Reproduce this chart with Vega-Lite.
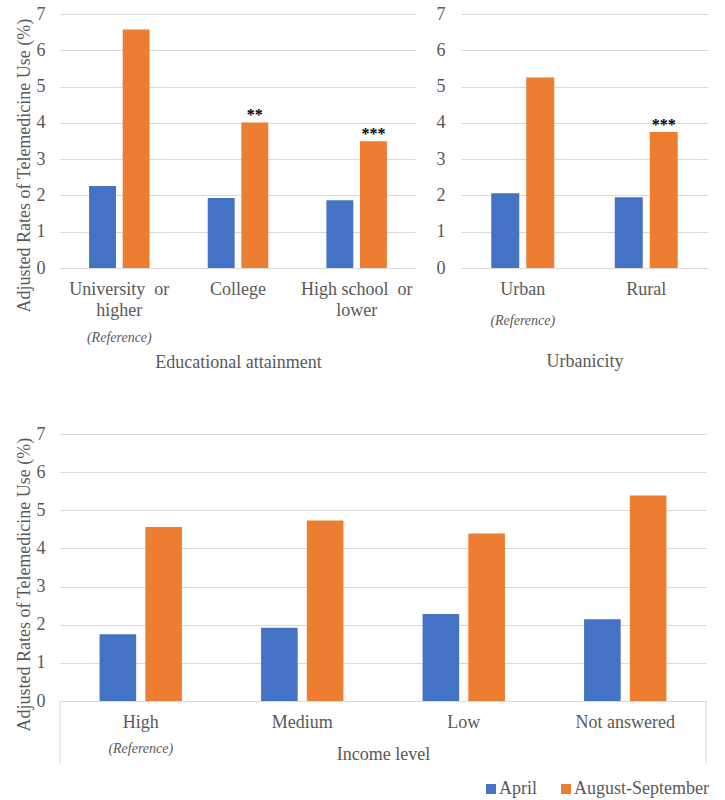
{
  "$schema": "https://vega.github.io/schema/vega-lite/v6.json",
  "padding": {"left": 15, "top": 5, "right": 5, "bottom": 5},
  "background": "white",
  "config": {
    "font": "Liberation Serif, Times New Roman, serif",
    "view": {"stroke": null},
    "text": {"font": "Liberation Serif, Times New Roman, serif"},
    "legend": {"labelFont": "Liberation Serif, Times New Roman, serif"},
    "axis": {
      "labelFont": "Liberation Serif, Times New Roman, serif",
      "titleFont": "Liberation Serif, Times New Roman, serif",
      "labelColor": "#595959",
      "titleColor": "#595959",
      "labelFontSize": 18,
      "titleFontWeight": "normal",
      "gridColor": "#d9d9d9",
      "domainColor": "#d9d9d9",
      "ticks": false
    },
    "axisX": {"grid": false, "domain": true, "labelAngle": 0, "labelOverlap": false, "titleFontSize": 18, "labelPadding": 12},
    "axisY": {"grid": true, "domain": false, "values": [0, 1, 2, 3, 4, 5, 6, 7], "titleFontSize": 18}
  },
  "datasets": {
    "edu": [
      {"category": "University or higher", "period": "April", "value": 2.26, "sig": ""},
      {"category": "University or higher", "period": "August-September", "value": 6.57, "sig": ""},
      {"category": "College", "period": "April", "value": 1.93, "sig": ""},
      {"category": "College", "period": "August-September", "value": 4.01, "sig": "**"},
      {"category": "High school or lower", "period": "April", "value": 1.87, "sig": ""},
      {"category": "High school or lower", "period": "August-September", "value": 3.49, "sig": "***"}
    ],
    "urb": [
      {"category": "Urban", "period": "April", "value": 2.06, "sig": ""},
      {"category": "Urban", "period": "August-September", "value": 5.25, "sig": ""},
      {"category": "Rural", "period": "April", "value": 1.95, "sig": ""},
      {"category": "Rural", "period": "August-September", "value": 3.75, "sig": "***"}
    ],
    "inc": [
      {"category": "High", "period": "April", "value": 1.75, "sig": ""},
      {"category": "High", "period": "August-September", "value": 4.56, "sig": ""},
      {"category": "Medium", "period": "April", "value": 1.92, "sig": ""},
      {"category": "Medium", "period": "August-September", "value": 4.73, "sig": ""},
      {"category": "Low", "period": "April", "value": 2.28, "sig": ""},
      {"category": "Low", "period": "August-September", "value": 4.39, "sig": ""},
      {"category": "Not answered", "period": "April", "value": 2.14, "sig": ""},
      {"category": "Not answered", "period": "August-September", "value": 5.39, "sig": ""}
    ],
    "refs": [
      {"panel": "edu", "category": "University or higher", "note": "(Reference)"},
      {"panel": "urb", "category": "Urban", "note": "(Reference)"},
      {"panel": "inc", "category": "High", "note": "(Reference)"}
    ]
  },
  "resolve": {"scale": {"color": "independent", "x": "independent", "xOffset": "independent", "y": "independent"}, "legend": {"color": "independent"}},
  "spacing": 54,
  "vconcat": [
    {
      "spacing": 20,
      "resolve": {"scale": {"x": "independent", "xOffset": "independent", "y": "independent"}},
      "hconcat": [
        {
          "width": 356,
          "height": 254,
          "layer": [
            {
              "data": {"name": "edu"},
              "mark": {"type": "bar"},
              "encoding": {
                "x": {
                  "field": "category", "type": "nominal",
                  "sort": ["University or higher", "College", "High school or lower"],
                  "scale": {"domain": ["University or higher", "College", "High school or lower"], "paddingInner": 0.49, "paddingOuter": 0.245},
                  "title": "Educational attainment",
                  "axis": {
                    "labelExpr": "datum.value == 'University or higher' ? ['University\u00a0 or', 'higher'] : datum.value == 'High school or lower' ? ['High school\u00a0 or', 'lower'] : datum.label",
                    "labelLineHeight": 21,
                    "titlePadding": 34
                  }
                },
                "xOffset": {"field": "period", "type": "nominal", "sort": ["April", "August-September"], "scale": {"paddingInner": 0.2}},
                "y": {
                  "field": "value", "type": "quantitative",
                  "scale": {"domain": [0, 7]},
                  "title": "Adjusted Rates of Telemedicine Use (%)",
                  "axis": {"labelPadding": 15, "titlePadding": 3, "titleAnchor": "start", "titleAlign": "left", "titleY": 298}
                },
                "color": {"field": "period", "type": "nominal", "scale": {"domain": ["April", "August-September"], "range": ["#4472C4", "#ED7D31"]}, "legend": null}
              }
            },
            {
              "data": {"name": "edu"},
              "mark": {"type": "text", "baseline": "alphabetic", "dy": -2, "fontSize": 16, "fontWeight": "bold", "color": "#000000"},
              "encoding": {
                "x": {"field": "category", "type": "nominal"},
                "xOffset": {"field": "period", "type": "nominal"},
                "y": {"field": "value", "type": "quantitative"},
                "text": {"field": "sig"}
              }
            },
            {
              "data": {"name": "refs"},
              "transform": [{"filter": "datum.panel == 'edu'"}],
              "mark": {"type": "text", "baseline": "middle", "fontSize": 14, "fontStyle": "italic", "color": "#595959"},
              "encoding": {
                "x": {"field": "category", "type": "nominal"},
                "y": {"datum": -1.93},
                "text": {"field": "note"}
              }
            }
          ]
        },
        {
          "width": 247,
          "height": 254,
          "layer": [
            {
              "data": {"name": "urb"},
              "mark": {"type": "bar"},
              "encoding": {
                "x": {
                  "field": "category", "type": "nominal",
                  "sort": ["Urban", "Rural"],
                  "scale": {"domain": ["Urban", "Rural"], "paddingInner": 0.49, "paddingOuter": 0.245},
                  "title": "Urbanicity",
                  "axis": {"titlePadding": 54}
                },
                "xOffset": {"field": "period", "type": "nominal", "sort": ["April", "August-September"], "scale": {"paddingInner": 0.2}},
                "y": {
                  "field": "value", "type": "quantitative",
                  "scale": {"domain": [0, 7]},
                  "title": null,
                  "axis": {"labelPadding": 16}
                },
                "color": {"field": "period", "type": "nominal", "scale": {"domain": ["April", "August-September"], "range": ["#4472C4", "#ED7D31"]}, "legend": null}
              }
            },
            {
              "data": {"name": "urb"},
              "mark": {"type": "text", "baseline": "alphabetic", "dy": -2, "fontSize": 16, "fontWeight": "bold", "color": "#000000"},
              "encoding": {
                "x": {"field": "category", "type": "nominal"},
                "xOffset": {"field": "period", "type": "nominal"},
                "y": {"field": "value", "type": "quantitative"},
                "text": {"field": "sig"}
              }
            },
            {
              "data": {"name": "refs"},
              "transform": [{"filter": "datum.panel == 'urb'"}],
              "mark": {"type": "text", "baseline": "middle", "fontSize": 14, "fontStyle": "italic", "color": "#595959"},
              "encoding": {
                "x": {"field": "category", "type": "nominal"},
                "y": {"datum": -1.47},
                "text": {"field": "note"}
              }
            }
          ]
        }
      ]
    },
    {
      "width": 646,
      "height": 267,
      "layer": [
        {
          "data": {"name": "inc"},
          "mark": {"type": "bar"},
          "encoding": {
            "x": {
              "field": "category", "type": "nominal",
              "sort": ["High", "Medium", "Low", "Not answered"],
              "scale": {"domain": ["High", "Medium", "Low", "Not answered"], "paddingInner": 0.49, "paddingOuter": 0.245},
              "title": "Income level",
              "axis": {"titlePadding": 14}
            },
            "xOffset": {"field": "period", "type": "nominal", "sort": ["April", "August-September"], "scale": {"paddingInner": 0.2}},
            "y": {
              "field": "value", "type": "quantitative",
              "scale": {"domain": [0, 7]},
              "title": "Adjusted Rates of Telemedicine Use (%)",
              "axis": {"labelPadding": 15, "titlePadding": 3, "titleAnchor": "start", "titleAlign": "left", "titleY": 297}
            },
            "color": {
              "field": "period", "type": "nominal",
              "scale": {"domain": ["April", "August-September"], "range": ["#4472C4", "#ED7D31"]},
              "legend": {
                "orient": "none", "legendX": 422, "legendY": 346, "direction": "horizontal",
                "title": null, "symbolType": "square", "symbolSize": 100, "symbolStrokeWidth": 0,
                "labelFontSize": 18, "labelColor": "#595959",
                "columnPadding": 20, "labelOffset": -1
              }
            }
          }
        },
        {
          "data": {"name": "inc"},
          "transform": [{"filter": "datum.category == 'High' && datum.period == 'April'"}],
          "mark": {"type": "rule", "color": "#d9d9d9", "strokeWidth": 1},
          "encoding": {
            "x": {"field": "category", "type": "nominal", "bandPosition": -0.4804},
            "y": {"datum": 0},
            "y2": {"datum": -1.65}
          }
        },
        {
          "data": {"name": "inc"},
          "transform": [{"filter": "datum.category == 'Not answered' && datum.period == 'April'"}],
          "mark": {"type": "rule", "color": "#d9d9d9", "strokeWidth": 1},
          "encoding": {
            "x": {"field": "category", "type": "nominal", "bandPosition": 1.4804},
            "y": {"datum": 0},
            "y2": {"datum": -1.65}
          }
        },
        {
          "data": {"name": "refs"},
          "transform": [{"filter": "datum.panel == 'inc'"}],
          "mark": {"type": "text", "baseline": "middle", "fontSize": 14, "fontStyle": "italic", "color": "#595959"},
          "encoding": {
            "x": {"field": "category", "type": "nominal"},
            "y": {"datum": -1.26},
            "text": {"field": "note"}
          }
        }
      ]
    }
  ]
}
